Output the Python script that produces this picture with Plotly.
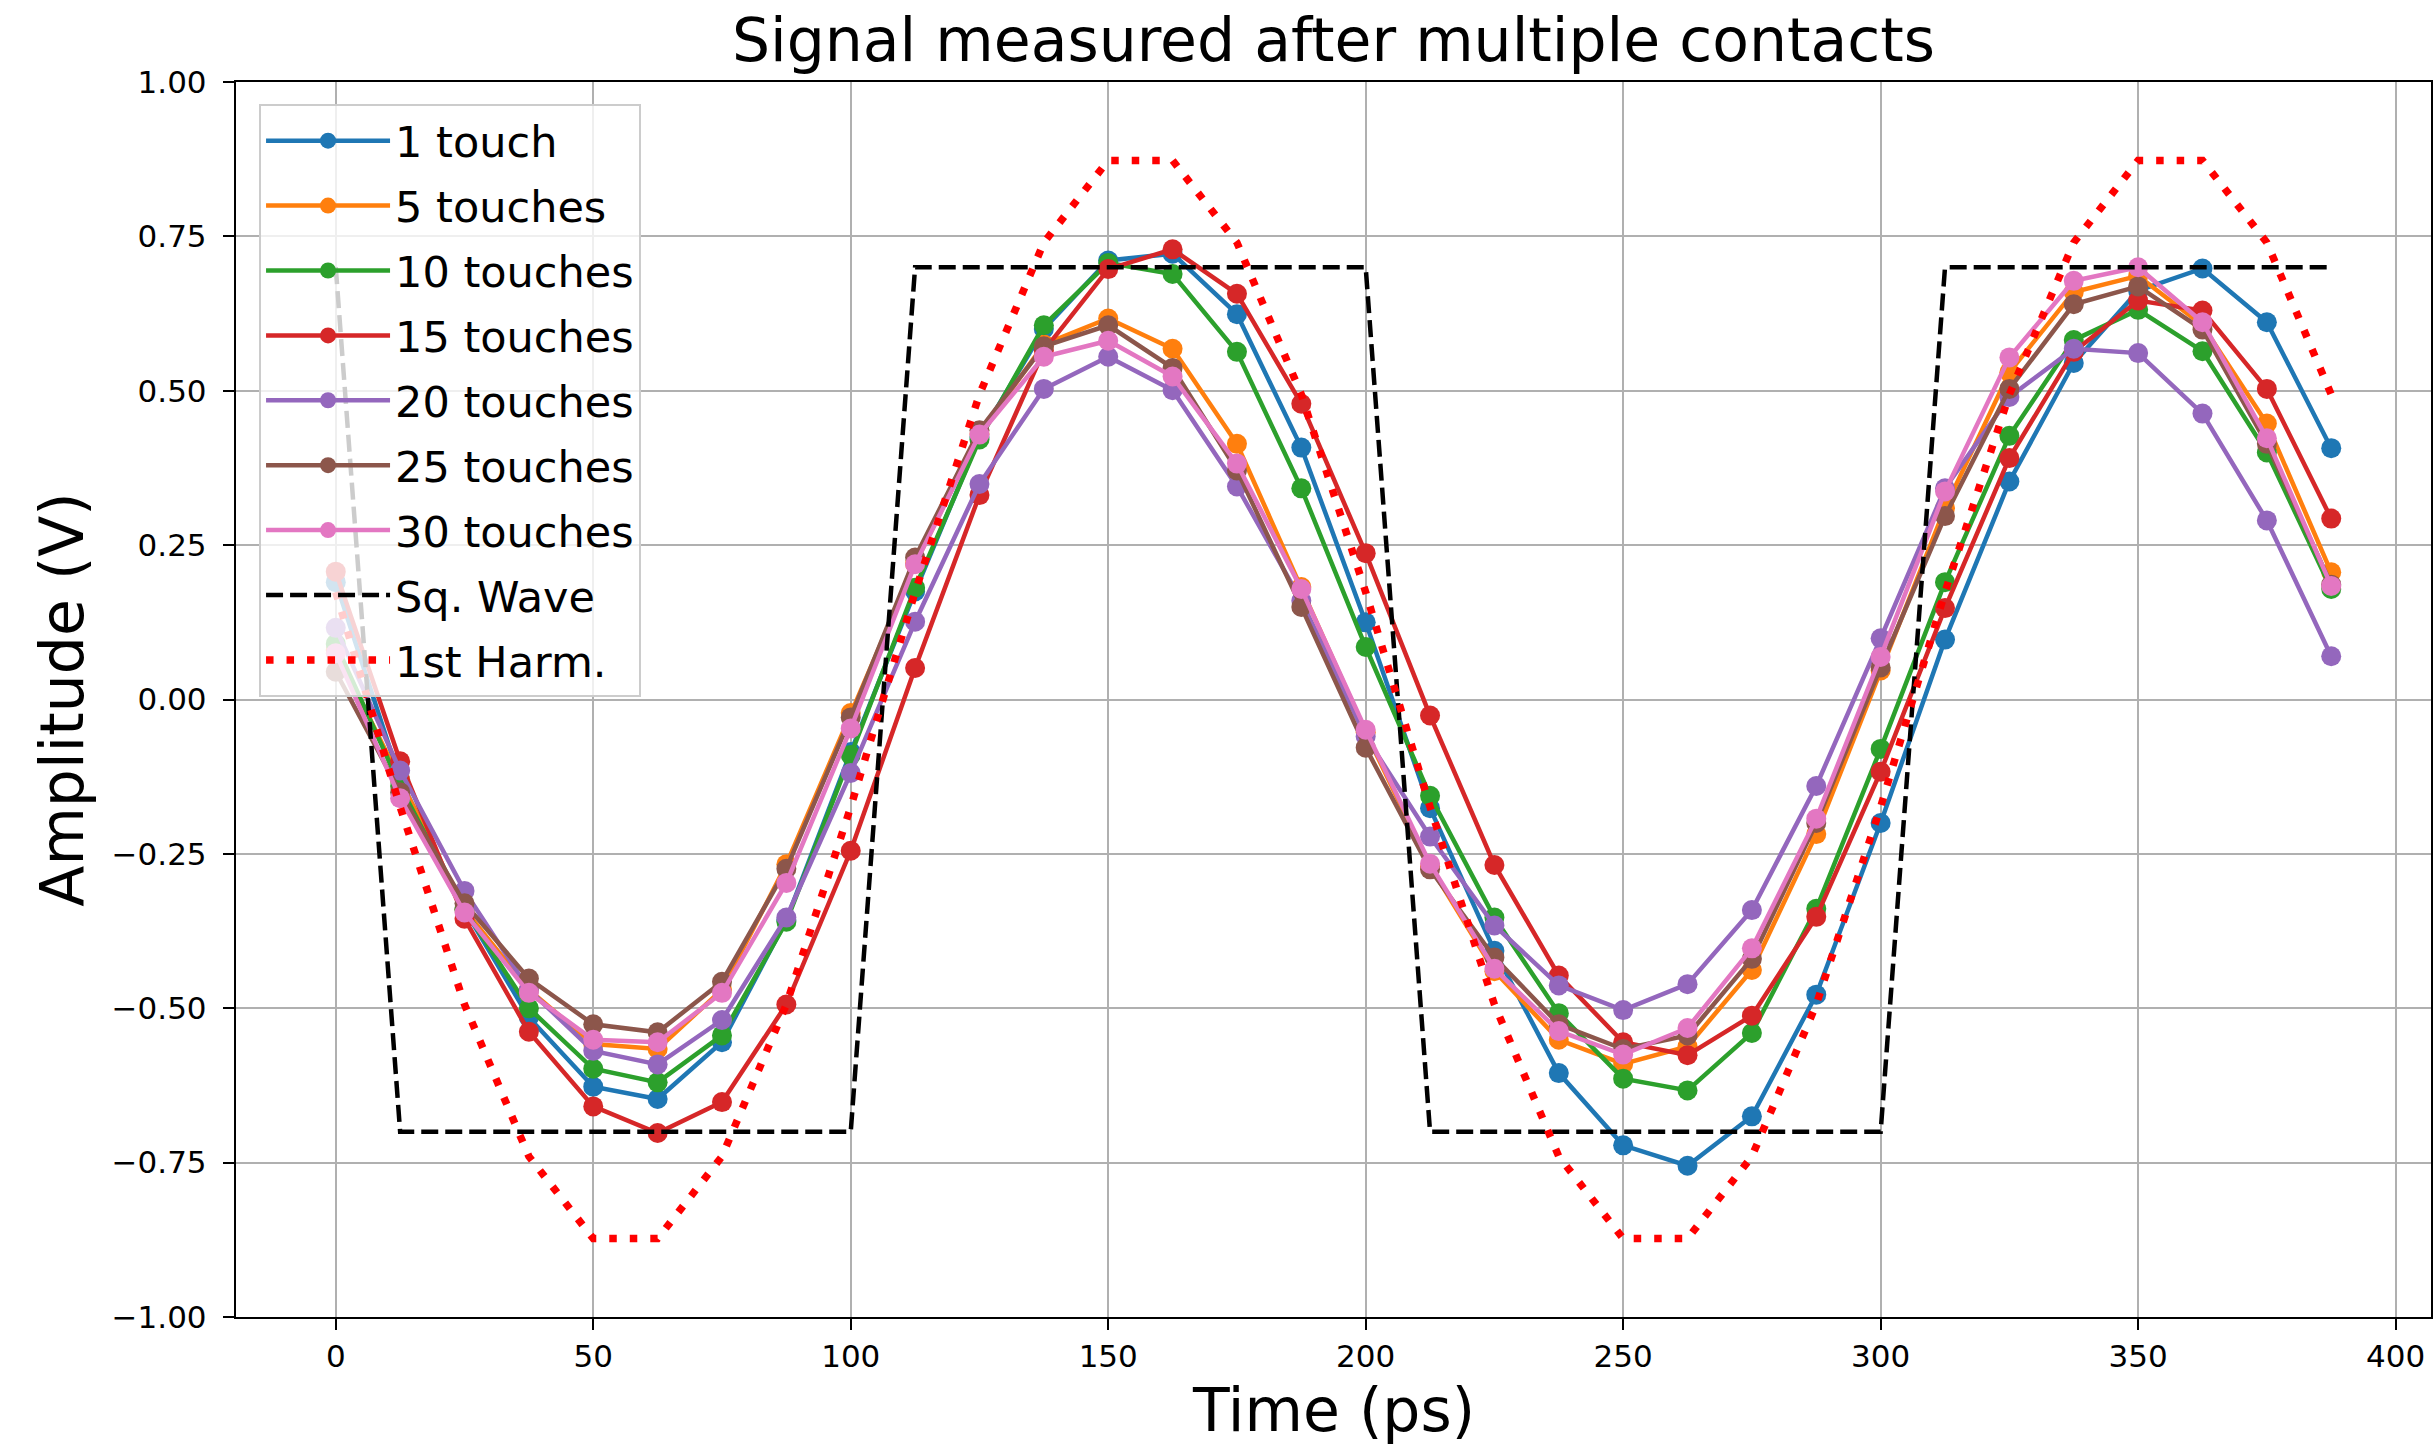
import plotly.graph_objects as go

time_ps = [0, 12.5, 25, 37.5, 50, 62.5, 75, 87.5, 100, 112.5, 125, 137.5, 150, 162.5, 175, 187.5,
           200, 212.5, 225, 237.5, 250, 262.5, 275, 287.5, 300, 312.5, 325, 337.5, 350, 362.5, 375, 387.5]

touch_1 = [0.19, -0.13, -0.34, -0.515, -0.627, -0.647, -0.555, -0.357, -0.085, 0.175, 0.425, 0.60,
           0.711, 0.722, 0.624, 0.408, 0.125, -0.176, -0.407, -0.605, -0.722, -0.755, -0.675, -0.478,
           -0.200, 0.097, 0.353, 0.545, 0.662, 0.698, 0.611, 0.407]
touch_5 = [0.08, -0.13, -0.34, -0.47, -0.558, -0.566, -0.47, -0.267, -0.022, 0.22, 0.43, 0.575,
           0.617, 0.568, 0.414, 0.182, -0.053, -0.27, -0.44, -0.551, -0.59, -0.562, -0.438, -0.218,
           0.047, 0.31, 0.53, 0.66, 0.686, 0.606, 0.447, 0.206]
touch_10 = [0.09, -0.14, -0.34, -0.50, -0.598, -0.62, -0.544, -0.36, -0.09, 0.181, 0.421, 0.606,
            0.707, 0.689, 0.563, 0.342, 0.085, -0.156, -0.353, -0.508, -0.614, -0.633, -0.54, -0.339,
            -0.08, 0.19, 0.427, 0.582, 0.631, 0.564, 0.40, 0.179]
touch_15 = [0.207, -0.10, -0.355, -0.538, -0.659, -0.702, -0.652, -0.494, -0.245, 0.051, 0.331, 0.565,
            0.697, 0.729, 0.657, 0.479, 0.237, -0.026, -0.268, -0.447, -0.555, -0.576, -0.512, -0.352,
            -0.117, 0.148, 0.391, 0.563, 0.646, 0.63, 0.503, 0.293]
touch_20 = [0.116, -0.115, -0.31, -0.47, -0.569, -0.591, -0.519, -0.353, -0.119, 0.126, 0.349, 0.503,
            0.555, 0.501, 0.345, 0.16, -0.06, -0.222, -0.366, -0.463, -0.503, -0.461, -0.341, -0.14,
            0.099, 0.342, 0.49, 0.568, 0.561, 0.463, 0.29, 0.07]
touch_25 = [0.045, -0.15, -0.33, -0.452, -0.526, -0.539, -0.457, -0.274, -0.029, 0.23, 0.436, 0.572,
            0.606, 0.537, 0.371, 0.15, -0.078, -0.275, -0.418, -0.526, -0.566, -0.544, -0.42, -0.20,
            0.052, 0.297, 0.503, 0.64, 0.669, 0.599, 0.414, 0.186]
touch_30 = [0.075, -0.16, -0.345, -0.475, -0.551, -0.555, -0.475, -0.297, -0.047, 0.219, 0.429, 0.555,
            0.581, 0.523, 0.382, 0.179, -0.049, -0.266, -0.436, -0.537, -0.575, -0.532, -0.403, -0.193,
            0.069, 0.337, 0.554, 0.678, 0.70, 0.611, 0.423, 0.184]
sq_wave = [0.7, -0.7, -0.7, -0.7, -0.7, -0.7, -0.7, -0.7, -0.7, 0.7, 0.7, 0.7, 0.7, 0.7, 0.7, 0.7,
           0.7, -0.7, -0.7, -0.7, -0.7, -0.7, -0.7, -0.7, -0.7, 0.7, 0.7, 0.7, 0.7, 0.7, 0.7, 0.7]
first_harm = [0.174, -0.174, -0.494, -0.740, -0.873, -0.873, -0.740, -0.494, -0.174, 0.174, 0.494, 0.740,
              0.873, 0.873, 0.740, 0.494, 0.174, -0.174, -0.494, -0.740, -0.873, -0.873, -0.740, -0.494,
              -0.174, 0.174, 0.494, 0.740, 0.873, 0.873, 0.740, 0.494]

series_names = ["1 touch", "5 touches", "10 touches", "15 touches", "20 touches", "25 touches", "30 touches"]
series_values = [touch_1, touch_5, touch_10, touch_15, touch_20, touch_25, touch_30]
series_colors = ["#1f77b4", "#ff7f0e", "#2ca02c", "#d62728", "#9467bd", "#8c564b", "#e377c2"]

x_ticks = [0, 50, 100, 150, 200, 250, 300, 350, 400]
y_ticks = [-1.0, -0.75, -0.5, -0.25, 0.0, 0.25, 0.5, 0.75, 1.0]

FONT = "DejaVu Sans"
W, H = 2433, 1449
ML, MR, MT, MB = 236, 0, 82, 132

fig = go.Figure()
for name, vals, col in zip(series_names, series_values, series_colors):
    fig.add_trace(go.Scatter(
        x=time_ps, y=vals, name=name, mode="lines+markers", legendgroup=name,
        line=dict(color=col, width=4.5),
        marker=dict(color=col, size=20, symbol="circle"),
    ))
fig.add_trace(go.Scatter(
    x=time_ps, y=sq_wave, name="Sq. Wave", mode="lines", legendgroup="sq",
    line=dict(color="black", width=4.5, dash="17px,7px"),
))
fig.add_trace(go.Scatter(
    x=time_ps, y=first_harm, name="1st Harm.", mode="lines", legendgroup="harm",
    line=dict(color="#ff0000", width=7.5, dash="7.5px,13px"),
))

axis_common = dict(
    showgrid=True, gridcolor="#b0b0b0", gridwidth=2.2,
    zeroline=False,
    showline=True, linecolor="black", linewidth=2.4, mirror=True,
    ticks="outside", ticklen=11, tickwidth=2.4, tickcolor="black",
    tickfont=dict(family=FONT, size=31, color="black"),
)

fig.update_layout(
    width=W, height=H,
    margin=dict(l=ML, r=MR, t=MT, b=MB),
    paper_bgcolor="white", plot_bgcolor="white",
    font=dict(family=FONT, color="black"),
    title=dict(text="Signal measured after multiple contacts",
               font=dict(family=FONT, size=60, color="black"),
               x=0.5, xref="paper", xanchor="center",
               y=1 - 40 / H, yref="container", yanchor="middle"),
    xaxis=dict(range=[-19.375, 406.875], tickvals=x_ticks,
               ticktext=[str(v) for v in x_ticks], **axis_common),
    yaxis=dict(range=[-1.0, 1.0], tickvals=y_ticks, tickformat=".2f",
               ticklabelstandoff=10, **axis_common),
    legend=dict(
        x=0.0105, y=0.982, xanchor="left", yanchor="top",
        bgcolor="rgba(255,255,255,0.8)", bordercolor="#cccccc", borderwidth=2,
        font=dict(family=FONT, size=43, color="black"),
        traceorder="grouped", tracegroupgap=6, itemwidth=124,
        entrywidth=262, entrywidthmode="pixels",
    ),
    showlegend=True,
    annotations=[
        dict(text="Time (ps)", xref="paper", yref="paper", x=0.5,
             y=-(1410 - (H - MB)) / (H - MT - MB), xanchor="center", yanchor="middle",
             showarrow=False, font=dict(family=FONT, size=60, color="black")),
        dict(text="Amplitude (V)", xref="paper", yref="paper",
             x=(61 - ML) / (W - ML - MR), y=0.5, xanchor="center", yanchor="middle",
             textangle=-90, showarrow=False, font=dict(family=FONT, size=60, color="black")),
    ],
)

fig.write_html("out.html", config={"displayModeBar": False},
               post_script="document.body.style.margin='0';")
